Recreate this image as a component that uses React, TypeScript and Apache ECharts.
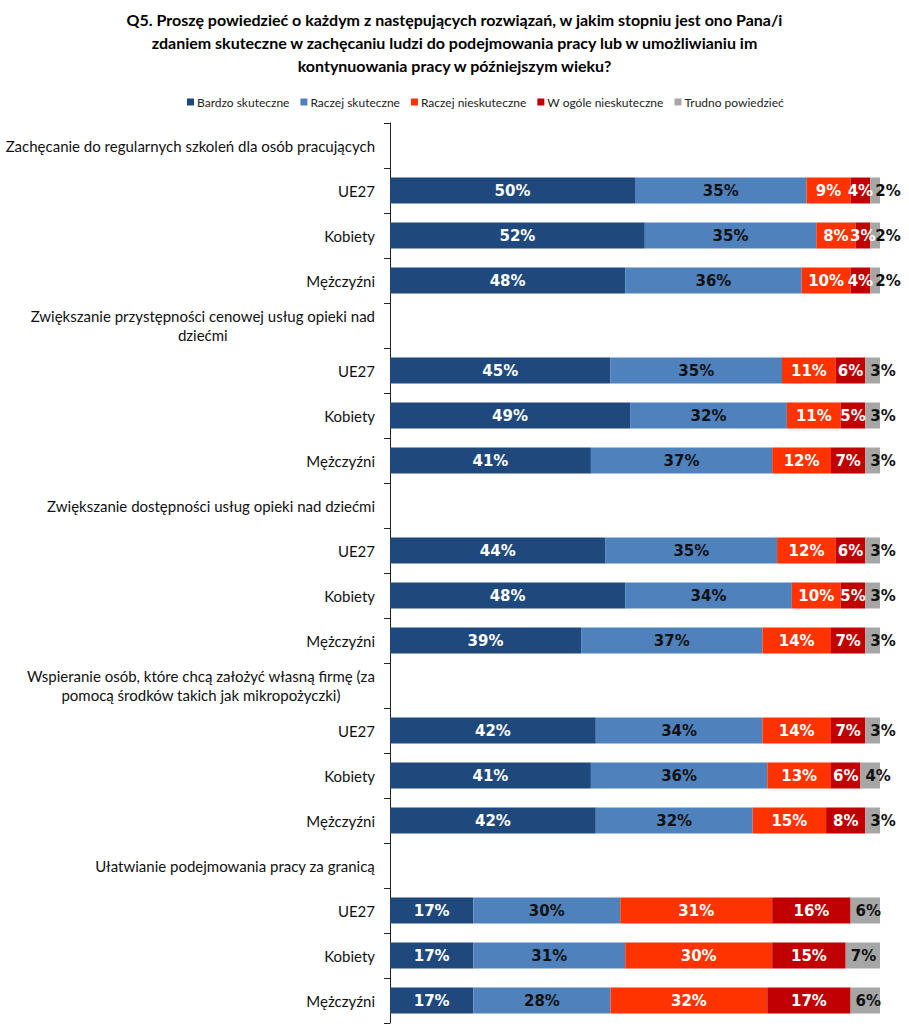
import React, { useEffect, useRef } from "react";
import * as echarts from "echarts";

const titleText =
  "Q5. Proszę powiedzieć o każdym z następujących rozwiązań, w jakim stopniu jest ono Pana/i\nzdaniem skuteczne w zachęcaniu ludzi do podejmowania pracy lub w umożliwianiu im\nkontynuowania pracy w późniejszym wieku?";

const categories = [
  "Zachęcanie do regularnych szkoleń dla osób pracujących",
  "UE27",
  "Kobiety",
  "Mężczyźni",
  "Zwiększanie przystępności cenowej usług opieki nad\ndziećmi",
  "UE27",
  "Kobiety",
  "Mężczyźni",
  "Zwiększanie dostępności usług opieki nad dziećmi",
  "UE27",
  "Kobiety",
  "Mężczyźni",
  "Wspieranie osób, które chcą założyć własną firmę (za\npomocą środków takich jak mikropożyczki)",
  "UE27",
  "Kobiety",
  "Mężczyźni",
  "Ułatwianie podejmowania pracy za granicą",
  "UE27",
  "Kobiety",
  "Mężczyźni",
];

const seriesNames = [
  "Bardzo skuteczne",
  "Raczej skuteczne",
  "Raczej nieskuteczne",
  "W ogóle nieskuteczne",
  "Trudno powiedzieć",
];

const bardzo = [null, 50, 52, 48, null, 45, 49, 41, null, 44, 48, 39, null, 42, 41, 42, null, 17, 17, 17];
const raczej = [null, 35, 35, 36, null, 35, 32, 37, null, 35, 34, 37, null, 34, 36, 32, null, 30, 31, 28];
const nieskuteczne = [null, 9, 8, 10, null, 11, 11, 12, null, 12, 10, 14, null, 14, 13, 15, null, 31, 30, 32];
const wogole = [null, 4, 3, 4, null, 6, 5, 7, null, 6, 5, 7, null, 7, 6, 8, null, 16, 15, 17];
const trudno = [null, 2, 2, 2, null, 3, 3, 3, null, 3, 3, 3, null, 3, 4, 3, null, 6, 7, 6];

const colors = ["#1F497D", "#4F81BD", "#FF3300", "#C00000", "#A6A6A6"];
const labelColors = ["#ffffff", "#111111", "#ffffff", "#ffffff", "#111111"];

export default function App() {
  const ref = useRef<HTMLDivElement>(null);

  useEffect(() => {
    document.body.style.margin = "0";
    if (!ref.current) return;
    const chart = echarts.init(ref.current, undefined, { renderer: "svg" });
    const dataSets = [bardzo, raczej, nieskuteczne, wogole, trudno];
    const valueFont = "DejaVu Sans";
    const series = dataSets.map((d, i) => ({
      name: seriesNames[i],
      type: "bar",
      stack: "total",
      barWidth: 26,
      data: d,
      itemStyle: { color: colors[i] },
      label: {
        show: true,
        position: i === 4 ? "insideLeft" : "inside",
        distance: 5,
        formatter: (p: any) => (p.value == null ? "" : p.value + "%"),
        color: labelColors[i],
        fontFamily: valueFont,
        fontWeight: "bold",
        fontSize: 15,
      },
    }));

    chart.setOption({
      animation: false,
      title: {
        text: titleText,
        left: "center",
        top: 3,
        textStyle: {
          fontFamily: "Lato",
          fontWeight: "bold",
          fontSize: 16,
          lineHeight: 23,
          color: "#000",
        },
      },
      legend: {
        data: seriesNames,
        top: 91,
        left: 182,
        icon: "rect",
        itemWidth: 7,
        itemHeight: 7,
        itemGap: 11,
        textStyle: { fontFamily: "Lato", fontSize: 12, color: "#222", padding: [0, 0, 0, -2] },
      },
      grid: { left: 390, width: 490, top: 123, height: 900 },
      xAxis: { type: "value", min: 0, max: 100, show: false },
      yAxis: {
        type: "category",
        inverse: true,
        data: categories,
        axisLine: { show: true, lineStyle: { color: "#222", width: 1 } },
        axisTick: { show: true, length: 6, lineStyle: { color: "#222" } },
        axisLabel: {
          margin: 15,
          formatter: (v: string) =>
            v
              .split("\n")
              .map((l) => `{c|${l}}`)
              .join("\n"),
          rich: {
            c: {
              align: "center",
              fontFamily: "Lato",
              fontSize: 15,
              lineHeight: 19,
              color: "#111",
            },
          },
        },
      },
      series,
    });
    return () => chart.dispose();
  }, []);

  return <div ref={ref} style={{ width: 909, height: 1033 }} />;
}
